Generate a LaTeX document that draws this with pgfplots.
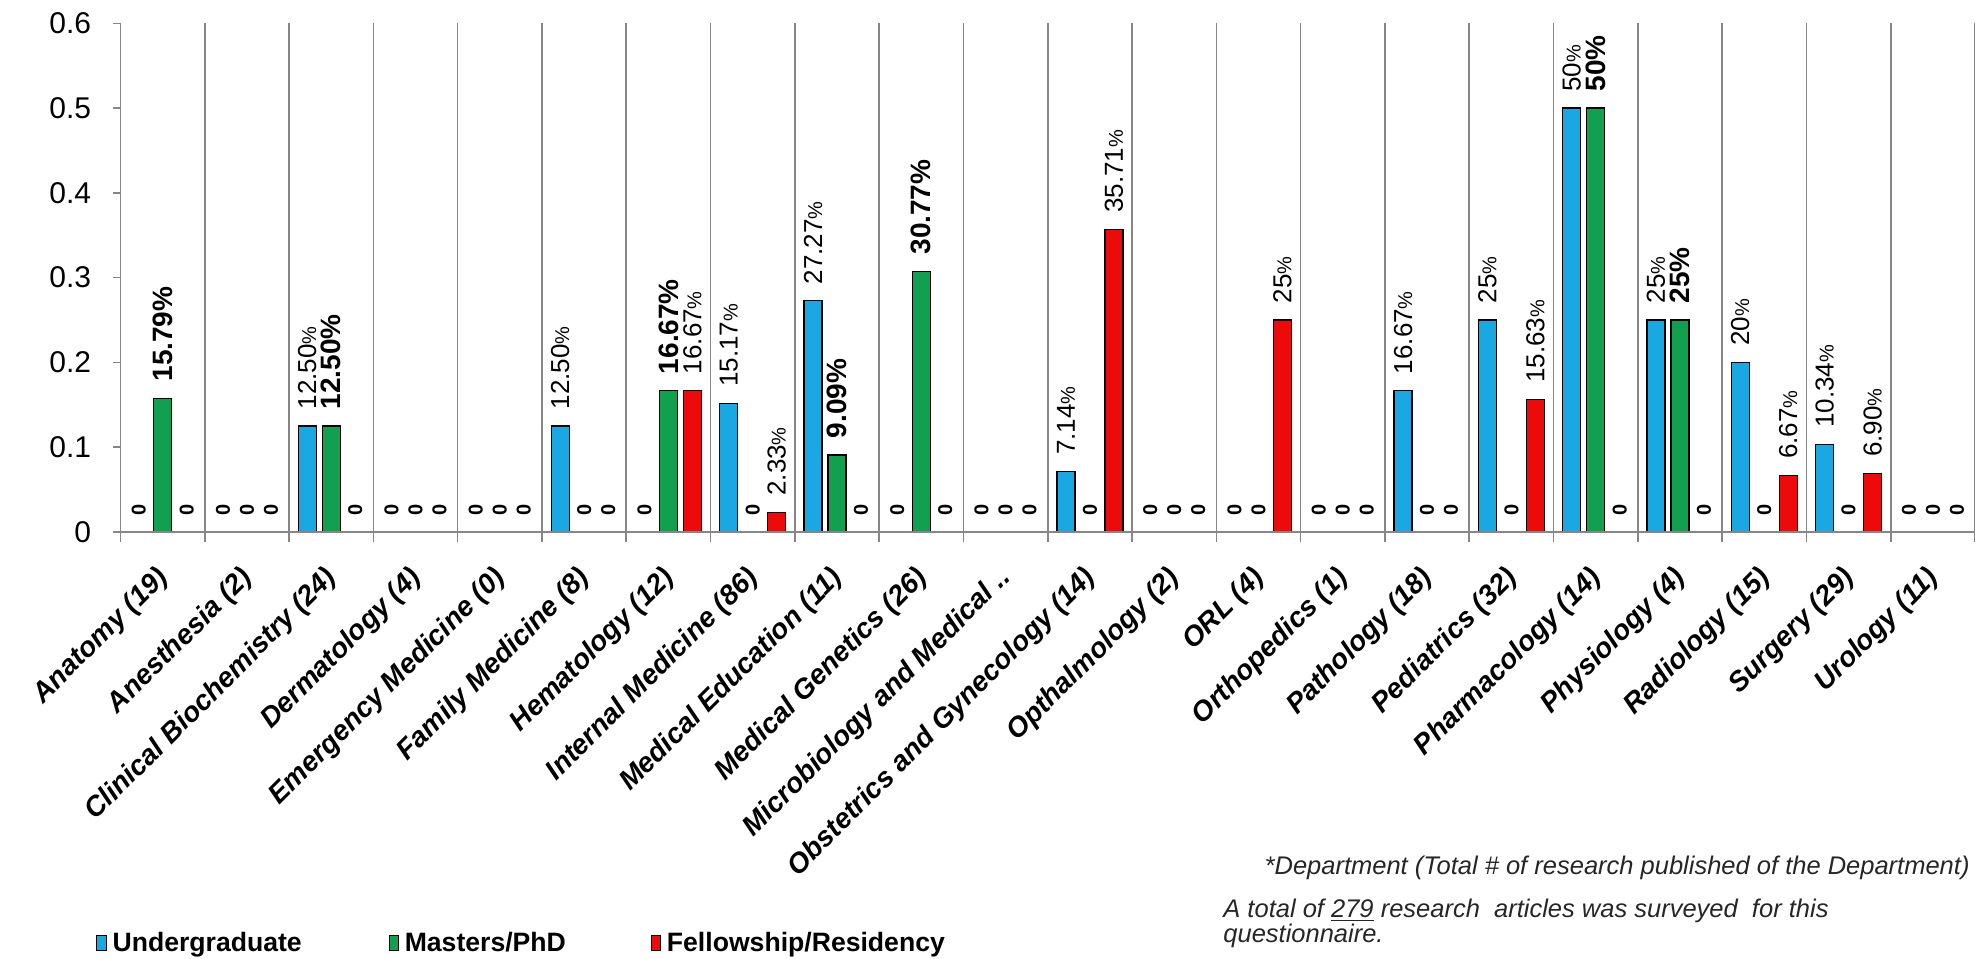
\documentclass[border=0pt]{standalone}
\usepackage{pgfplots}
\pgfplotsset{compat=1.18}
\usepackage{fontspec}
\setmainfont{Liberation Sans}
\setsansfont{Liberation Sans}
\definecolor{cblue}{RGB}{26,168,226}
\definecolor{cgreen}{RGB}{16,160,80}
\definecolor{cred}{RGB}{236,10,10}
\definecolor{cgrid}{RGB}{134,134,134}
\newcommand\spct{{\fontsize{10bp}{10bp}\selectfont\%}}
\newcommand\z{{\fontsize{10bp}{10bp}\selectfont\bfseries 0}}
\pgfplotsset{
  sq legend/.style={legend image code/.code={\draw[##1,draw=black,line width=0.5bp] (0bp,-3.6bp) rectangle (4.6bp,3.6bp);}},
  mybar/.style={draw=black, line width=0.6bp,
    nodes near coords, point meta=explicit symbolic,
    every node near coord/.append style={rotate=90, anchor=west, inner xsep=8bp, inner ysep=0pt, text=black},
    sq legend},
}
\begin{document}
\begin{tikzpicture}
\path[use as bounding box] (-60.25bp,-213.5bp) rectangle (927.25bp,266bp);
\begin{axis}[
  at={(0,0)}, anchor=south west,
  scale only axis, width=927.25bp, height=254.35bp,
  xmin=-0.5, xmax=21.5, ymin=0, ymax=0.6,
  ybar=3bp, bar width=9bp,
  clip=false, axis on top,
  axis x line*=bottom, axis y line*=left,
  axis line style={-, draw=cgrid, line width=0.8bp},
  tick align=outside,
  major tick length=3.5bp, minor tick length=5bp,
  ytick={0,0.1,0.2,0.3,0.4,0.5,0.6},
  ytick style={draw=cgrid, line width=0.8bp},
  yticklabel style={font=\fontsize{15bp}{15bp}\selectfont, inner sep=0pt, anchor=east, xshift=-11bp},
  /pgf/number format/assume math mode=true,
  xtick={0,...,21},
  minor xtick={-0.5,0.5,...,21.5},
  major x tick style={draw=none},
  minor x tick style={draw=cgrid, line width=0.8bp},
  xminorgrids=true,
  minor x grid style={draw=cgrid, line width=0.8bp},
  xticklabels={Anatomy (19), Anesthesia (2), Clinical Biochemistry (24), Dermatology (4), Emergency Medicine (0), Family Medicine (8), Hematology (12), Internal Medicine (86), Medical Education (11), Medical Genetics (26), Microbiology and Medical .., Obstetrics and Gynecology (14), Opthalmology (2), ORL (4), Orthopedics (1), Pathology (18), Pediatrics (32), Pharmacology (14), Physiology (4), Radiology (15), Surgery (29), Urology (11)},
  xticklabel style={font=\fontsize{14bp}{14bp}\selectfont\bfseries\itshape, inner sep=0pt, xshift=-4bp, yshift=-12.5bp, rotate=45, anchor=north east},
  legend style={draw=none, fill=none, at={(-0.0132,-0.808)}, anchor=west, legend columns=3, inner sep=0pt,
    font=\fontsize{13.3bp}{14bp}\selectfont\bfseries,
    /tikz/every even column/.append style={column sep=0pt}},
  legend cell align=left,
]
\addplot[mybar, fill=cblue,
  every node near coord/.append style={font=\fontsize{13bp}{13bp}\selectfont}]
  coordinates {(0,0)[\z] (1,0)[\z] (2,0.125)[12.50\spct] (3,0)[\z] (4,0)[\z] (5,0.125)[12.50\spct]
  (6,0)[\z] (7,0.1517)[15.17\spct] (8,0.2727)[27.27\spct] (9,0)[\z] (10,0)[\z] (11,0.0714)[7.14\spct]
  (12,0)[\z] (13,0)[\z] (14,0)[\z] (15,0.1667)[16.67\spct] (16,0.25)[25\spct] (17,0.5)[50\spct]
  (18,0.25)[25\spct] (19,0.2)[20\spct] (20,0.1034)[10.34\spct] (21,0)[\z]};
\addlegendentry{\hspace{1bp}\makebox[136bp][l]{Undergraduate}}
\addplot[mybar, fill=cgreen,
  every node near coord/.append style={font=\fontsize{14bp}{14bp}\selectfont\bfseries}]
  coordinates {(0,0.1579)[15.79\%] (1,0)[\z] (2,0.125)[12.50\%] (3,0)[\z] (4,0)[\z] (5,0)[\z]
  (6,0.1667)[16.67\%] (7,0)[\z] (8,0.0909)[9.09\%] (9,0.3077)[30.77\%] (10,0)[\z] (11,0)[\z]
  (12,0)[\z] (13,0)[\z] (14,0)[\z] (15,0)[\z] (16,0)[\z] (17,0.5)[50\%]
  (18,0.25)[25\%] (19,0)[\z] (20,0)[\z] (21,0)[\z]};
\addlegendentry{\hspace{1bp}\makebox[121bp][l]{Masters/PhD}}
\addplot[mybar, fill=cred,
  every node near coord/.append style={font=\fontsize{13bp}{13bp}\selectfont}]
  coordinates {(0,0)[\z] (1,0)[\z] (2,0)[\z] (3,0)[\z] (4,0)[\z] (5,0)[\z]
  (6,0.1667)[16.67\spct] (7,0.0233)[2.33\spct] (8,0)[\z] (9,0)[\z] (10,0)[\z] (11,0.3571)[35.71\spct]
  (12,0)[\z] (13,0.25)[25\spct] (14,0)[\z] (15,0)[\z] (16,0.1563)[15.63\spct] (17,0)[\z]
  (18,0)[\z] (19,0.0667)[6.67\spct] (20,0.069)[6.90\spct] (21,0)[\z]};
\addlegendentry{\hspace{1bp}Fellowship/Residency}
\end{axis}
\node[anchor=base east, inner sep=0pt, font=\fontsize{12.75bp}{13bp}\selectfont\itshape, text=black!85] at (924.75bp,-171bp) {*Department (Total \# of research published of the Department)};
\node[anchor=base west, inner sep=0pt, font=\fontsize{12.75bp}{13bp}\selectfont\itshape, text=black!85] at (551.25bp,-192.5bp) {A total of \underline{279} research\ \ articles was surveyed\ \ for this};
\node[anchor=base west, inner sep=0pt, font=\fontsize{12.75bp}{13bp}\selectfont\itshape, text=black!85] at (551.25bp,-205bp) {questionnaire.};
\end{tikzpicture}
\end{document}
